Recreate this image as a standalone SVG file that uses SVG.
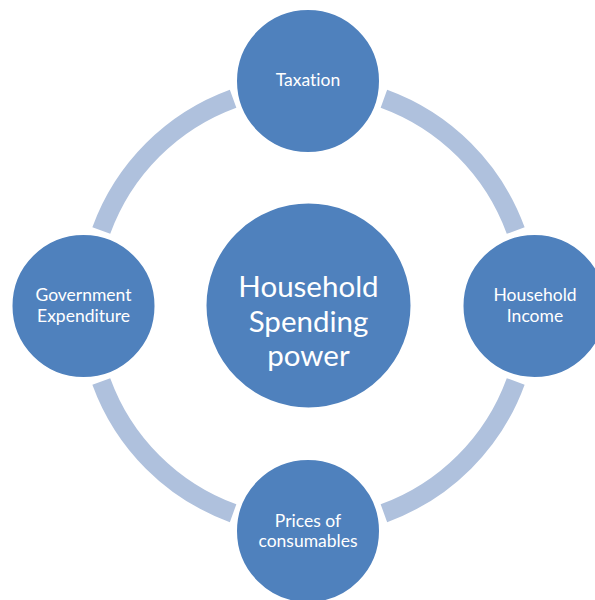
<svg xmlns="http://www.w3.org/2000/svg" width="595" height="600" viewBox="0 0 595 600">
<style>
.arc{fill:none;stroke:#AFC1DD;stroke-width:19;stroke-linecap:butt}
.node{fill:#4F81BD;stroke:#FFFFFF;stroke-width:2}
.lbl{fill:#FFFFFF;font-family:Lato,"Open Sans","Liberation Sans",sans-serif;font-size:17.5px;text-anchor:middle;font-variant-ligatures:none;font-feature-settings:"liga" 0}
.big{font-size:29.5px}
</style>
<rect width="595" height="600" fill="#FFFFFF"/>
<g id="connectors">
<path class="arc" d="M383.9,98.8 A220.5,220.5 0 0 1 515.7,230.6"/>
<path class="arc" d="M515.7,381.4 A220.5,220.5 0 0 1 383.9,513.2"/>
<path class="arc" d="M233.1,513.2 A220.5,220.5 0 0 1 101.3,381.4"/>
<path class="arc" d="M101.3,230.6 A220.5,220.5 0 0 1 233.1,98.8"/>
</g>
<g id="center">
<circle class="node" cx="308.5" cy="305.5" r="103"/>
<text class="lbl big" x="308.5" y="297">Household</text>
<text class="lbl big" x="308.5" y="332">Spending</text>
<text class="lbl big" x="308.5" y="366">power</text>
</g>
<g id="taxation">
<circle class="node" cx="308" cy="81" r="72"/>
<text class="lbl" x="308" y="86">Taxation</text>
</g>
<g id="income">
<circle class="node" cx="534.5" cy="306" r="72"/>
<text class="lbl" x="535" y="301">Household</text>
<text class="lbl" x="535" y="322">Income</text>
</g>
<g id="prices">
<circle class="node" cx="308" cy="531" r="72"/>
<text class="lbl" x="308" y="527">Prices of</text>
<text class="lbl" x="308" y="547">consumables</text>
</g>
<g id="government">
<circle class="node" cx="83.5" cy="306" r="72"/>
<text class="lbl" x="83.5" y="301">Government</text>
<text class="lbl" x="83.5" y="322">Expenditure</text>
</g>
</svg>
